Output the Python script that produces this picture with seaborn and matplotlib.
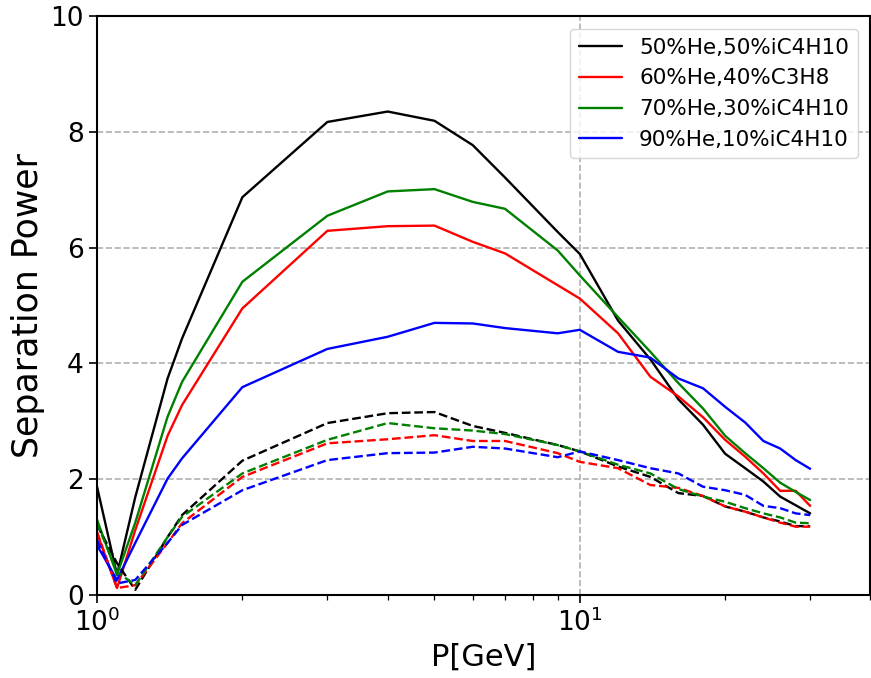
import matplotlib
matplotlib.use("Agg")
import matplotlib.pyplot as plt
import seaborn as sns
import numpy as np
import pandas as pd

P = [1.0, 1.1, 1.2, 1.4, 1.5, 2, 3, 4, 5, 6, 7, 9, 10, 12, 14, 16, 18, 20, 22, 24, 26, 28, 30]

labels = ["50%He,50%iC4H10", "60%He,40%C3H8", "70%He,30%iC4H10", "90%He,10%iC4H10"]
colors = ["black", "red", "green", "blue"]

black_solid = [1.87, 0.35, 1.69, 3.74, 4.43, 6.87, 8.17, 8.35, 8.19, 7.77, 7.21, 6.27, 5.89, 4.74, 4.07, 3.38, 2.94, 2.44, 2.19, 1.96, 1.70, 1.55, 1.41]
red_solid = [1.07, 0.12, 1.12, 2.75, 3.28, 4.95, 6.29, 6.37, 6.38, 6.10, 5.90, 5.35, 5.12, 4.52, 3.77, 3.43, 3.07, 2.68, 2.39, 2.10, 1.80, 1.80, 1.54]
green_solid = [1.30, 0.35, 1.25, 3.08, 3.68, 5.41, 6.55, 6.97, 7.01, 6.79, 6.67, 5.95, 5.52, 4.80, 4.20, 3.66, 3.22, 2.75, 2.45, 2.19, 1.94, 1.78, 1.64]
blue_solid = [0.86, 0.26, 0.90, 2.01, 2.36, 3.59, 4.25, 4.46, 4.70, 4.69, 4.61, 4.52, 4.58, 4.20, 4.10, 3.74, 3.57, 3.25, 2.98, 2.66, 2.53, 2.33, 2.18]

black_dashed = [1.21, 0.55, 0.09, 1.00, 1.38, 2.32, 2.97, 3.14, 3.16, 2.92, 2.80, 2.59, 2.48, 2.22, 2.04, 1.76, 1.71, 1.53, 1.44, 1.34, 1.27, 1.19, 1.19]
red_dashed = [1.09, 0.12, 0.17, 0.90, 1.24, 2.04, 2.62, 2.69, 2.76, 2.66, 2.66, 2.45, 2.30, 2.19, 1.90, 1.85, 1.71, 1.53, 1.44, 1.34, 1.25, 1.18, 1.18]
green_dashed = [1.24, 0.40, 0.17, 1.00, 1.35, 2.10, 2.68, 2.97, 2.88, 2.84, 2.78, 2.59, 2.48, 2.25, 2.10, 1.83, 1.70, 1.61, 1.50, 1.41, 1.34, 1.25, 1.24]
blue_dashed = [0.95, 0.20, 0.26, 0.90, 1.21, 1.81, 2.33, 2.45, 2.46, 2.56, 2.53, 2.38, 2.48, 2.33, 2.19, 2.10, 1.87, 1.81, 1.73, 1.54, 1.50, 1.41, 1.38]

solids = [black_solid, red_solid, green_solid, blue_solid]
dasheds = [black_dashed, red_dashed, green_dashed, blue_dashed]

sns.set_style("ticks")
plt.rcParams['font.family'] = ['DejaVu Sans']
plt.rcParams['text.color'] = 'black'
plt.rcParams['axes.labelcolor'] = 'black'
plt.rcParams['xtick.color'] = 'black'
plt.rcParams['ytick.color'] = 'black'

fig = plt.figure(figsize=(8.71, 6.78), dpi=100)
ax = fig.add_axes([0.1114, 0.1224, 0.888, 0.854])

for vals, c, lab in zip(solids, colors, labels):
    sns.lineplot(x=P, y=vals, color=c, label=lab, ax=ax, linewidth=1.7)
for vals, c in zip(dasheds, colors):
    sns.lineplot(x=P, y=vals, color=c, ax=ax, linewidth=1.7, linestyle="--", legend=False)

ax.set_xscale("log")
ax.set_xlim(1, 40)
ax.set_ylim(0, 10)
ax.set_yticks([0, 2, 4, 6, 8, 10])
ax.grid(True, which="major", linestyle="--", color="#b0b0b0", linewidth=1.2)
ax.set_axisbelow(True)
ax.tick_params(axis="both", which="major", labelsize=19, direction="out", length=6, width=1.2, colors="black")
ax.tick_params(axis="x", which="minor", direction="out", length=3.5, width=0.9, colors="black")
for s in ax.spines.values():
    s.set_color("black")
    s.set_linewidth(1.5)
ax.set_xlabel("P[GeV]", fontsize=22, color="black")
ax.set_ylabel("Separation Power", fontsize=25, color="black")
leg = ax.legend(loc="upper right", fontsize=15.5, frameon=True, framealpha=0.8, edgecolor="#cccccc",
                handlelength=2.0, borderaxespad=0.6)
for t in leg.get_texts():
    t.set_color("black")
for line in leg.get_lines():
    line.set_linewidth(1.7)

fig.savefig("out.png", dpi=100)
